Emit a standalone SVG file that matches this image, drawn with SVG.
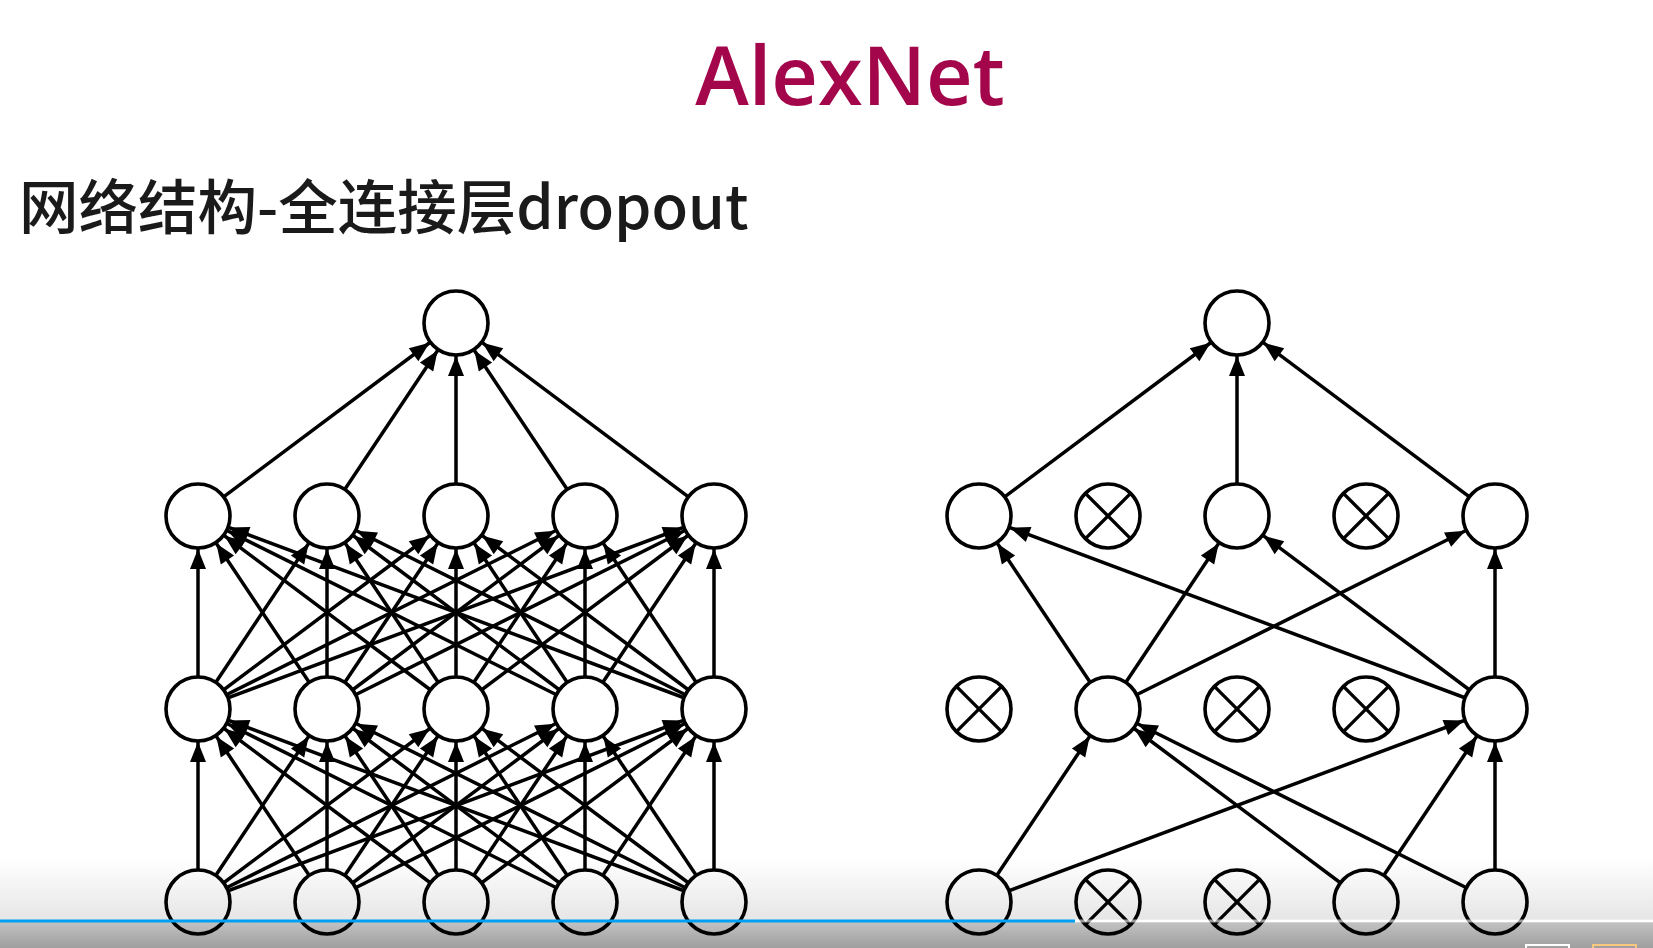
<svg xmlns="http://www.w3.org/2000/svg" width="1653" height="948" viewBox="0 0 1653 948">
<style>
.title{font-family:"Open Sans","Noto Sans","Liberation Sans",sans-serif;font-size:81px;font-weight:600;fill:#A3064A;}
.sub{font-family:"Noto Sans CJK SC","Noto Sans",sans-serif;font-size:59.5px;font-weight:500;fill:#1a1a1a;}
.n{fill:#ffffff;stroke:#000;stroke-width:3.6;}
.x{stroke:#000;stroke-width:3.4;}
#edges line{stroke:#000;stroke-width:3.5;marker-end:url(#ah);}
</style>
<defs>
<marker id="ah" markerUnits="userSpaceOnUse" markerWidth="1" markerHeight="1" refX="0" refY="0" orient="auto" overflow="visible">
<path d="M -33 0 L -53 -8 L -53 8 Z" fill="#000"/>
</marker>
<linearGradient id="g1" x1="0" y1="0" x2="0" y2="1">
<stop offset="0" stop-color="#000" stop-opacity="0"/>
<stop offset="1" stop-color="#000" stop-opacity="0.1"/>
</linearGradient>
<linearGradient id="g2" x1="0" y1="0" x2="0" y2="1">
<stop offset="0" stop-color="#000" stop-opacity="0.24"/>
<stop offset="1" stop-color="#000" stop-opacity="0.38"/>
</linearGradient>
</defs>
<rect width="1653" height="948" fill="#ffffff"/>
<text class="title" x="850" y="105" text-anchor="middle">AlexNet</text>
<text class="sub" x="19" y="229">网络结构-全连接层dropout</text>
<g id="edges">
<line x1="198" y1="516" x2="456" y2="323"/>
<line x1="327" y1="516" x2="456" y2="323"/>
<line x1="456" y1="516" x2="456" y2="323"/>
<line x1="585" y1="516" x2="456" y2="323"/>
<line x1="714" y1="516" x2="456" y2="323"/>
<line x1="198" y1="709" x2="198" y2="516"/>
<line x1="198" y1="709" x2="327" y2="516"/>
<line x1="198" y1="709" x2="456" y2="516"/>
<line x1="198" y1="709" x2="585" y2="516"/>
<line x1="198" y1="709" x2="714" y2="516"/>
<line x1="327" y1="709" x2="198" y2="516"/>
<line x1="327" y1="709" x2="327" y2="516"/>
<line x1="327" y1="709" x2="456" y2="516"/>
<line x1="327" y1="709" x2="585" y2="516"/>
<line x1="327" y1="709" x2="714" y2="516"/>
<line x1="456" y1="709" x2="198" y2="516"/>
<line x1="456" y1="709" x2="327" y2="516"/>
<line x1="456" y1="709" x2="456" y2="516"/>
<line x1="456" y1="709" x2="585" y2="516"/>
<line x1="456" y1="709" x2="714" y2="516"/>
<line x1="585" y1="709" x2="198" y2="516"/>
<line x1="585" y1="709" x2="327" y2="516"/>
<line x1="585" y1="709" x2="456" y2="516"/>
<line x1="585" y1="709" x2="585" y2="516"/>
<line x1="585" y1="709" x2="714" y2="516"/>
<line x1="714" y1="709" x2="198" y2="516"/>
<line x1="714" y1="709" x2="327" y2="516"/>
<line x1="714" y1="709" x2="456" y2="516"/>
<line x1="714" y1="709" x2="585" y2="516"/>
<line x1="714" y1="709" x2="714" y2="516"/>
<line x1="198" y1="902" x2="198" y2="709"/>
<line x1="198" y1="902" x2="327" y2="709"/>
<line x1="198" y1="902" x2="456" y2="709"/>
<line x1="198" y1="902" x2="585" y2="709"/>
<line x1="198" y1="902" x2="714" y2="709"/>
<line x1="327" y1="902" x2="198" y2="709"/>
<line x1="327" y1="902" x2="327" y2="709"/>
<line x1="327" y1="902" x2="456" y2="709"/>
<line x1="327" y1="902" x2="585" y2="709"/>
<line x1="327" y1="902" x2="714" y2="709"/>
<line x1="456" y1="902" x2="198" y2="709"/>
<line x1="456" y1="902" x2="327" y2="709"/>
<line x1="456" y1="902" x2="456" y2="709"/>
<line x1="456" y1="902" x2="585" y2="709"/>
<line x1="456" y1="902" x2="714" y2="709"/>
<line x1="585" y1="902" x2="198" y2="709"/>
<line x1="585" y1="902" x2="327" y2="709"/>
<line x1="585" y1="902" x2="456" y2="709"/>
<line x1="585" y1="902" x2="585" y2="709"/>
<line x1="585" y1="902" x2="714" y2="709"/>
<line x1="714" y1="902" x2="198" y2="709"/>
<line x1="714" y1="902" x2="327" y2="709"/>
<line x1="714" y1="902" x2="456" y2="709"/>
<line x1="714" y1="902" x2="585" y2="709"/>
<line x1="714" y1="902" x2="714" y2="709"/>
<line x1="979" y1="516" x2="1237" y2="323"/>
<line x1="1237" y1="516" x2="1237" y2="323"/>
<line x1="1495" y1="516" x2="1237" y2="323"/>
<line x1="1108" y1="709" x2="979" y2="516"/>
<line x1="1108" y1="709" x2="1237" y2="516"/>
<line x1="1108" y1="709" x2="1495" y2="516"/>
<line x1="1495" y1="709" x2="979" y2="516"/>
<line x1="1495" y1="709" x2="1237" y2="516"/>
<line x1="1495" y1="709" x2="1495" y2="516"/>
<line x1="979" y1="902" x2="1108" y2="709"/>
<line x1="979" y1="902" x2="1495" y2="709"/>
<line x1="1366" y1="902" x2="1108" y2="709"/>
<line x1="1366" y1="902" x2="1495" y2="709"/>
<line x1="1495" y1="902" x2="1108" y2="709"/>
<line x1="1495" y1="902" x2="1495" y2="709"/>
</g>
<g id="L-out"><circle class="n" cx="456" cy="323" r="32"/></g>
<g id="L-h2-1"><circle class="n" cx="198" cy="516" r="32"/></g>
<g id="L-h2-2"><circle class="n" cx="327" cy="516" r="32"/></g>
<g id="L-h2-3"><circle class="n" cx="456" cy="516" r="32"/></g>
<g id="L-h2-4"><circle class="n" cx="585" cy="516" r="32"/></g>
<g id="L-h2-5"><circle class="n" cx="714" cy="516" r="32"/></g>
<g id="L-h1-1"><circle class="n" cx="198" cy="709" r="32"/></g>
<g id="L-h1-2"><circle class="n" cx="327" cy="709" r="32"/></g>
<g id="L-h1-3"><circle class="n" cx="456" cy="709" r="32"/></g>
<g id="L-h1-4"><circle class="n" cx="585" cy="709" r="32"/></g>
<g id="L-h1-5"><circle class="n" cx="714" cy="709" r="32"/></g>
<g id="L-in-1"><circle class="n" cx="198" cy="902" r="32"/></g>
<g id="L-in-2"><circle class="n" cx="327" cy="902" r="32"/></g>
<g id="L-in-3"><circle class="n" cx="456" cy="902" r="32"/></g>
<g id="L-in-4"><circle class="n" cx="585" cy="902" r="32"/></g>
<g id="L-in-5"><circle class="n" cx="714" cy="902" r="32"/></g>
<g id="R-out"><circle class="n" cx="1237" cy="323" r="32"/></g>
<g id="R-h2-1"><circle class="n" cx="979" cy="516" r="32"/></g>
<g id="R-h2-2"><circle class="n" cx="1108" cy="516" r="32"/><line class="x" x1="1085.4" y1="493.4" x2="1130.6" y2="538.6"/><line class="x" x1="1130.6" y1="493.4" x2="1085.4" y2="538.6"/></g>
<g id="R-h2-3"><circle class="n" cx="1237" cy="516" r="32"/></g>
<g id="R-h2-4"><circle class="n" cx="1366" cy="516" r="32"/><line class="x" x1="1343.4" y1="493.4" x2="1388.6" y2="538.6"/><line class="x" x1="1388.6" y1="493.4" x2="1343.4" y2="538.6"/></g>
<g id="R-h2-5"><circle class="n" cx="1495" cy="516" r="32"/></g>
<g id="R-h1-1"><circle class="n" cx="979" cy="709" r="32"/><line class="x" x1="956.4" y1="686.4" x2="1001.6" y2="731.6"/><line class="x" x1="1001.6" y1="686.4" x2="956.4" y2="731.6"/></g>
<g id="R-h1-2"><circle class="n" cx="1108" cy="709" r="32"/></g>
<g id="R-h1-3"><circle class="n" cx="1237" cy="709" r="32"/><line class="x" x1="1214.4" y1="686.4" x2="1259.6" y2="731.6"/><line class="x" x1="1259.6" y1="686.4" x2="1214.4" y2="731.6"/></g>
<g id="R-h1-4"><circle class="n" cx="1366" cy="709" r="32"/><line class="x" x1="1343.4" y1="686.4" x2="1388.6" y2="731.6"/><line class="x" x1="1388.6" y1="686.4" x2="1343.4" y2="731.6"/></g>
<g id="R-h1-5"><circle class="n" cx="1495" cy="709" r="32"/></g>
<g id="R-in-1"><circle class="n" cx="979" cy="902" r="32"/></g>
<g id="R-in-2"><circle class="n" cx="1108" cy="902" r="32"/><line class="x" x1="1085.4" y1="879.4" x2="1130.6" y2="924.6"/><line class="x" x1="1130.6" y1="879.4" x2="1085.4" y2="924.6"/></g>
<g id="R-in-3"><circle class="n" cx="1237" cy="902" r="32"/><line class="x" x1="1214.4" y1="879.4" x2="1259.6" y2="924.6"/><line class="x" x1="1259.6" y1="879.4" x2="1214.4" y2="924.6"/></g>
<g id="R-in-4"><circle class="n" cx="1366" cy="902" r="32"/></g>
<g id="R-in-5"><circle class="n" cx="1495" cy="902" r="32"/></g>
<g id="player-bar">
<rect x="0" y="858" width="1653" height="62" fill="url(#g1)"/>
<rect x="0" y="922" width="1653" height="26" fill="url(#g2)"/>
<line x1="1075" y1="921" x2="1653" y2="921" stroke="#ffffff" stroke-opacity="0.6" stroke-width="3"/>
<line x1="0" y1="921" x2="1075" y2="921" stroke="#00A1F4" stroke-width="3"/>
<rect x="1526" y="945" width="43" height="10" fill="none" stroke="#ffffff" stroke-width="2"/>
<rect x="1593" y="945" width="43" height="10" fill="none" stroke="#F7C77E" stroke-width="2"/>
</g>
</svg>
